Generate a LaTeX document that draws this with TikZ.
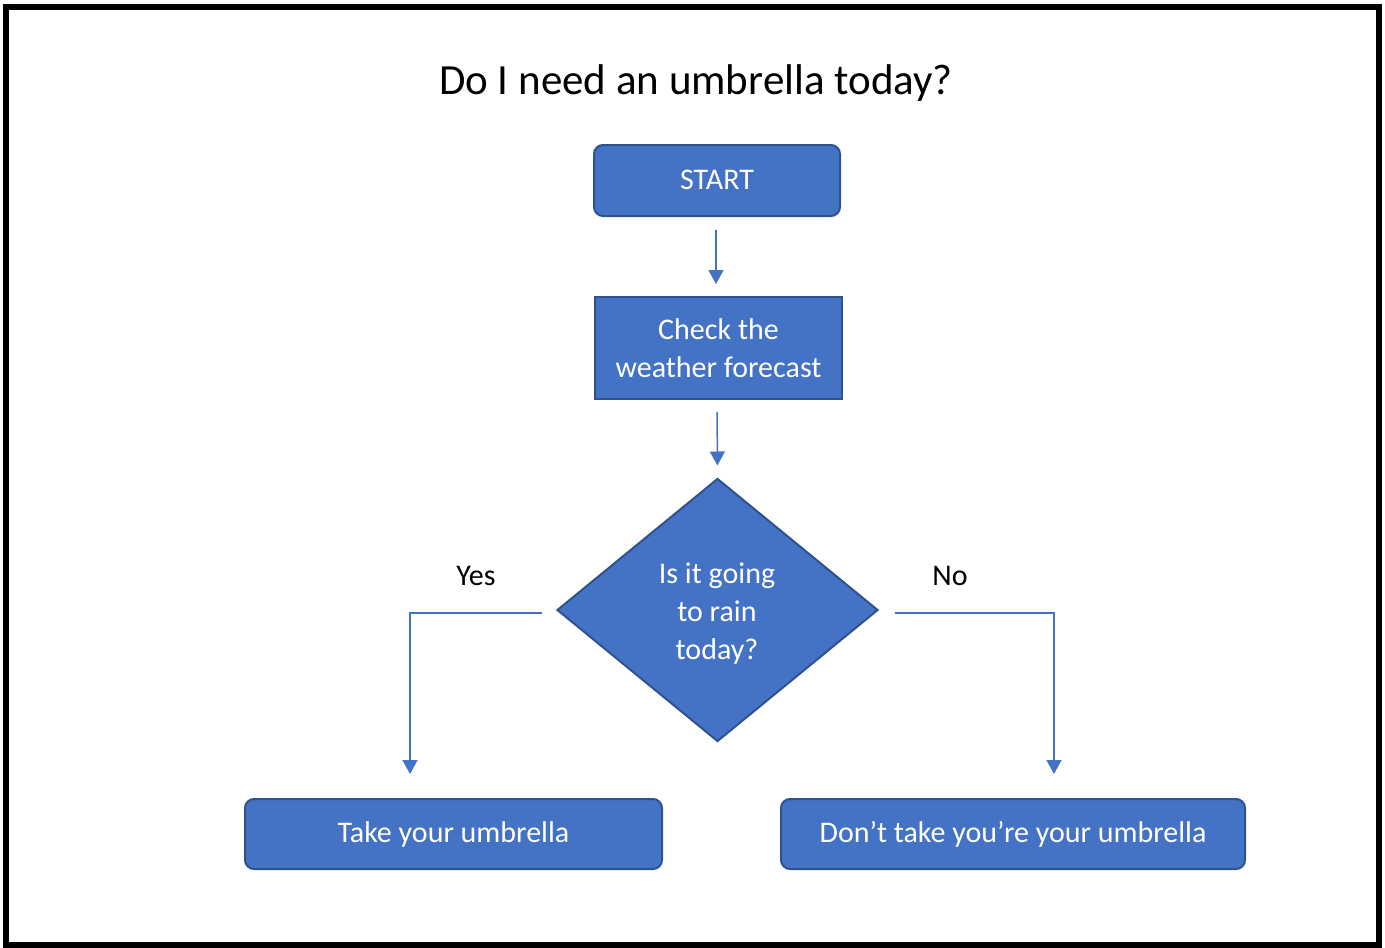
\documentclass[tikz,border=0pt]{standalone}
\usepackage{fontspec}
\setmainfont{Carlito}
\usetikzlibrary{shapes.geometric,arrows.meta}
\definecolor{boxfill}{HTML}{4472C4}
\definecolor{boxline}{HTML}{2F528F}
\definecolor{conn}{HTML}{4472C4}
\tikzset{
  x=1pt,y=-1pt,
  base/.style={fill=boxfill,draw=boxline,line width=2pt,text=white,font=\fontsize{30}{38}\selectfont,align=center,inner sep=0pt},
  roundbox/.style={base,rounded corners=9pt},
  sqbox/.style={base},
  decision/.style={base,diamond},
  arr/.style={draw=conn,line width=1.5pt,-{Triangle[length=14pt,width=15pt]}},
  lbl/.style={font=\fontsize{30}{36}\selectfont,text=black}
}
\begin{document}
\begin{tikzpicture}
\useasboundingbox (0,0) rectangle (1385,948);
\draw[line width=6pt] (6,7) rectangle (1379,945);
\node[font=\fontsize{43}{50}\selectfont] (title) at (696,83) {Do I need an umbrella today?};
\node[roundbox,minimum width=246pt,minimum height=71pt] (start) at (717,180.5) {\raisebox{2pt}{START}};
\node[sqbox,minimum width=247pt,minimum height=102pt] (check) at (718.5,348) {\raisebox{2pt}{\parbox{240pt}{\centering Check the\\weather forecast}}};
\node[decision,minimum width=321pt,minimum height=263pt] (dia) at (717.5,610) {};
\node[font=\fontsize{30}{38}\selectfont,text=white,align=center] (diatext) at (717,614) {Is it going\\to rain\\today?};
\node[roundbox,minimum width=417pt,minimum height=70pt] (take) at (453.5,834) {Take your umbrella};
\node[roundbox,minimum width=464pt,minimum height=70pt] (dont) at (1013,834) {Don’t take you’re your umbrella};
\node[lbl] (yes) at (476,576) {Yes};
\node[lbl] (no) at (950,576) {No};
\coordinate (yesc) at (410,613);
\coordinate (noc) at (1054,613);
\draw[arr,shorten <=13pt,shorten >=12pt] (start.south -| 716,0) -- (check.north -| 716,0);
\draw[arr,shorten <=12pt,shorten >=12pt] (check.south -| 717,0) -- (dia.north);
\draw[arr,shorten <=14pt,shorten >=24pt] (dia.west |- yesc) -- (yesc) -- (yesc |- take.north);
\draw[arr,shorten <=16pt,shorten >=24pt] (dia.east |- noc) -- (noc) -- (noc |- dont.north);
\end{tikzpicture}
\end{document}
